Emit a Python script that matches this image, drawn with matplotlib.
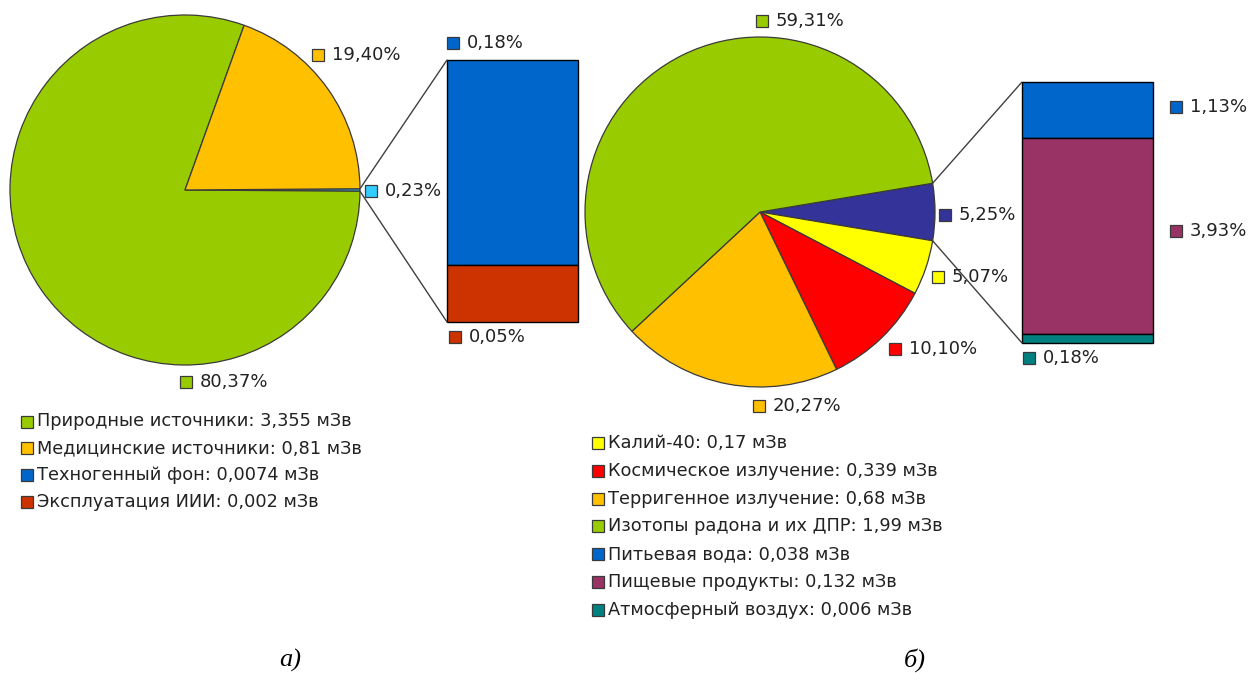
"""
Pie-of-bar charts of annual effective dose by source.
"""

import matplotlib

matplotlib.use("Agg")
import matplotlib.pyplot as plt
import numpy as np
from matplotlib.patches import ConnectionPatch

W, H = 1253, 673

# (а) all sources: pie shares, the small "other" slice is broken out into the bar
pie_a_shares = [0.23, 80.37, 19.40]
pie_a_colors = ["#33CCFF", "#99CC00", "#FFC000"]
bar_a_shares = [0.18, 0.05]
bar_a_colors = ["#0066CC", "#CC3300"]

legend_a_names = [
    "Природные источники",
    "Медицинские источники",
    "Техногенный фон",
    "Эксплуатация ИИИ",
]
legend_a_doses = [3.355, 0.81, 0.0074, 0.002]
legend_a_colors = ["#99CC00", "#FFC000", "#0066CC", "#CC3300"]

# (б) natural sources
pie_b_shares = [5.25, 5.07, 10.10, 20.27, 59.31]
pie_b_colors = ["#333399", "#FFFF00", "#FF0000", "#FFC000", "#99CC00"]
bar_b_shares = [1.13, 3.93, 0.18]
bar_b_colors = ["#0066CC", "#993366", "#008080"]

legend_b_names = [
    "Калий-40",
    "Космическое излучение",
    "Терригенное излучение",
    "Изотопы радона и их ДПР",
    "Питьевая вода",
    "Пищевые продукты",
    "Атмосферный воздух",
]
legend_b_doses = [0.17, 0.339, 0.68, 1.99, 0.038, 0.132, 0.006]
legend_b_colors = [
    "#FFFF00", "#FF0000", "#FFC000", "#99CC00", "#0066CC", "#993366", "#008080",
]

TEXT = "#222222"
EDGE = "#3a3a3a"
FS_PCT = 13
FS_LEG = 12.75
MS = 8


def pct(v):
    return f"{v:.2f}".replace(".", ",") + "%"


def dose(v):
    return str(v).replace(".", ",") + " мЗв"


def px_axes(fig, left, top, width, height):
    return fig.add_axes([left / W, 1 - (top + height) / H, width / W, height / H])


def draw_pie(fig, cx, cy, r, shares, colors):
    ax = px_axes(fig, cx - r, cy - r, 2 * r, 2 * r)
    wedges, _ = ax.pie(
        shares,
        colors=colors,
        startangle=shares[0] * 3.6 / 2,
        counterclock=False,
        radius=1,
        wedgeprops={"edgecolor": EDGE, "linewidth": 0.9},
    )
    ax.set_xlim(-1, 1)
    ax.set_ylim(-1, 1)
    ax.set_aspect("equal")
    ax.axis("off")
    return ax, wedges


def draw_bar(fig, left, top, width, height, shares, colors):
    ax = px_axes(fig, left, top, width, height)
    bottom = sum(shares)
    for val, col in zip(shares, colors):
        bottom -= val
        ax.bar(0, val, bottom=bottom, width=1, color=col,
               edgecolor="black", linewidth=1, clip_on=False)
    ax.set_xlim(-0.5, 0.5)
    ax.set_ylim(0, sum(shares))
    ax.axis("off")
    return ax


def connect(fig, pie_ax, wedge, bar_ax, bar_total):
    t1, t2 = np.radians(wedge.theta1), np.radians(wedge.theta2)
    for t, yb in ((t2, bar_total), (t1, 0)):
        con = ConnectionPatch(
            xyA=(np.cos(t), np.sin(t)), coordsA=pie_ax.transData,
            xyB=(-0.5, yb), coordsB=bar_ax.transData,
            color="#404040", linewidth=1,
        )
        fig.add_artist(con)


def tag(ax, x, y, color, text):
    ax.plot(x, y, marker="s", ms=MS, mfc=color, mec=EDGE, mew=0.9,
            linestyle="")
    ax.text(x + 14, y, text, fontsize=FS_PCT, color=TEXT, va="center", ha="left")


fig = plt.figure(figsize=(W / 100, H / 100), dpi=100)
fig.patch.set_facecolor("white")

pie_a, wedges_a = draw_pie(fig, 185, 190, 175, pie_a_shares, pie_a_colors)
bar_a = draw_bar(fig, 447, 60, 131, 262, bar_a_shares, bar_a_colors)
connect(fig, pie_a, wedges_a[0], bar_a, sum(bar_a_shares))

pie_b, wedges_b = draw_pie(fig, 760, 212, 175, pie_b_shares, pie_b_colors)
bar_b = draw_bar(fig, 1022, 82, 131, 261, bar_b_shares, bar_b_colors)
connect(fig, pie_b, wedges_b[0], bar_b, sum(bar_b_shares))

# overlay in pixel units for the value labels and legends
ov = fig.add_axes([0, 0, 1, 1], zorder=5)
ov.set_xlim(0, W)
ov.set_ylim(H, 0)
ov.axis("off")

# value labels: marker centres next to each slice / segment
pie_a_tags = [(371, 191), (186, 382), (318, 55)]
bar_a_tags = [(453, 43), (455, 337)]
pie_b_tags = [(945, 215), (938, 277), (895, 349), (759, 406), (762, 21)]
bar_b_tags = [(1176, 107), (1176, 231), (1029, 358)]

for (x, y), v, c in zip(pie_a_tags, pie_a_shares, pie_a_colors):
    tag(ov, x, y, c, pct(v))
for (x, y), v, c in zip(bar_a_tags, bar_a_shares, bar_a_colors):
    tag(ov, x, y, c, pct(v))
for (x, y), v, c in zip(pie_b_tags, pie_b_shares, pie_b_colors):
    tag(ov, x, y, c, pct(v))
for (x, y), v, c in zip(bar_b_tags, bar_b_shares, bar_b_colors):
    tag(ov, x, y, c, pct(v))

# legends
for i, (name, d, c) in enumerate(zip(legend_a_names, legend_a_doses, legend_a_colors)):
    y = 421.5 + i * 26.7
    ov.plot(27, y, marker="s", ms=MS, mfc=c, mec=EDGE, mew=0.9, linestyle="")
    ov.text(37, y, f"{name}: {dose(d)}", fontsize=FS_LEG, color=TEXT,
            va="center", ha="left")

for i, (name, d, c) in enumerate(zip(legend_b_names, legend_b_doses, legend_b_colors)):
    y = 443 + i * 27.8
    ov.plot(597.5, y, marker="s", ms=MS, mfc=c, mec=EDGE, mew=0.9, linestyle="")
    ov.text(607.5, y, f"{name}: {dose(d)}", fontsize=FS_LEG, color=TEXT,
            va="center", ha="left")

# panel captions
for x, s in ((290, "а)"), (915, "б)")):
    ov.text(x, 660, s, fontsize=19, family="Liberation Serif", style="italic",
            color="black", ha="center", va="center")

fig.savefig("out.png", dpi=100, facecolor="white")
